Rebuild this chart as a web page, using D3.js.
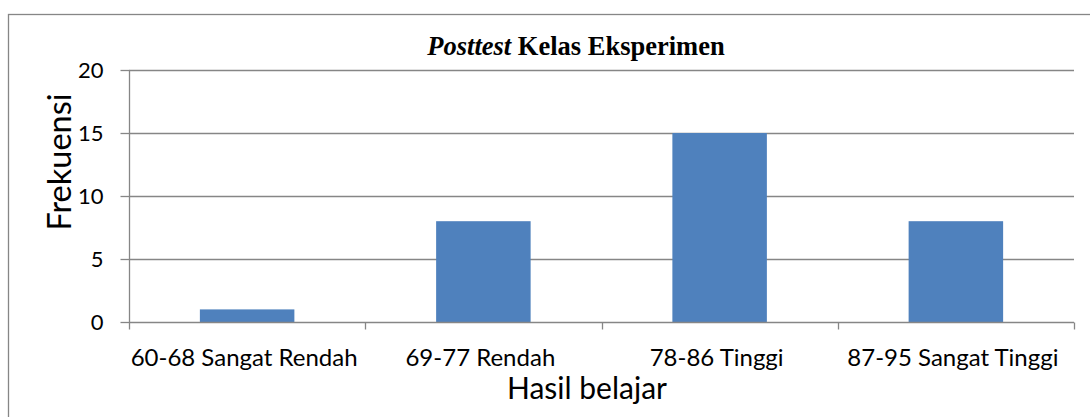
<!DOCTYPE html>
<html><head><meta charset="utf-8">
<script src="https://cdn.jsdelivr.net/npm/d3@7"></script>
<style>body{margin:0;background:#fff}svg{display:block}</style>
</head><body>
<script>
const categories = ["60-68 Sangat Rendah","69-77 Rendah","78-86 Tinggi","87-95 Sangat Tinggi"];
const values = [1, 8, 15, 8];
const yTicks = [0, 5, 10, 15, 20];

const W = 1090, H = 417;
const m = {left: 129, right: 1074, top: 70, bottom: 322};
const svg = d3.select("body").append("svg").attr("width", W).attr("height", H);

svg.append("rect").attr("x", 8.5).attr("y", 14.5).attr("width", 1100).attr("height", 500)
  .attr("fill", "none").attr("stroke", "#868686").attr("stroke-width", 1.3);

const x = d3.scaleBand().domain(categories).range([m.left, m.right]).paddingInner(0.6).paddingOuter(0.3);
const xb = d3.scaleBand().domain(categories).range([m.left, m.right]);
const y = d3.scaleLinear().domain([0, 20]).range([m.bottom, m.top]);

const font = "Lato, 'Open Sans', sans-serif";
// gridlines
svg.append("g").selectAll("line").data(yTicks.filter(d => d > 0)).join("line")
  .attr("x1", m.left).attr("x2", m.right)
  .attr("y1", d => Math.round(y(d)) + 0.5).attr("y2", d => Math.round(y(d)) + 0.5)
  .attr("stroke", "#868686").attr("stroke-width", 1.3);

// bars
svg.append("g").selectAll("rect").data(values).join("rect")
  .attr("x", (d, i) => x(categories[i])).attr("width", x.bandwidth())
  .attr("y", d => y(d)).attr("height", d => y(0) - y(d))
  .attr("fill", "#4f81bd");

// y axis
const yAxis = d3.axisLeft(y).tickValues(yTicks).tickSize(9).tickPadding(17);
const gy = svg.append("g").attr("transform", `translate(${m.left + 0.5},0)`).call(yAxis);
gy.select(".domain").attr("stroke", "#868686").attr("stroke-width", 1.3).attr("d", `M0,${m.top}V${m.bottom}`);
gy.selectAll(".tick line").attr("stroke", "#868686").attr("stroke-width", 1.3);
gy.selectAll(".tick text").attr("font-family", font).attr("font-size", 22).attr("fill", "#000");

// x axis
const gx = svg.append("g").attr("transform", `translate(0,${m.bottom + 0.5})`);
gx.append("line").attr("x1", m.left).attr("x2", m.right).attr("stroke", "#868686").attr("stroke-width", 1.3);
const bounds = categories.map(c => xb(c)).concat([m.right]);
gx.selectAll("line.t").data(bounds).join("line").attr("class", "t")
  .attr("x1", d => Math.round(d) + 0.5).attr("x2", d => Math.round(d) + 0.5).attr("y1", 0).attr("y2", 7)
  .attr("stroke", "#868686").attr("stroke-width", 1.3);
gx.selectAll("text").data(categories).join("text")
  .attr("x", d => xb(d) + xb.bandwidth() / 2 - 3).attr("y", 43)
  .attr("text-anchor", "middle").attr("font-family", font).attr("font-size", 24).attr("fill", "#000")
  .text(d => d);

// axis titles
svg.append("text").attr("x", 587).attr("y", 399).attr("text-anchor", "middle")
  .attr("font-family", font).attr("font-size", 30).attr("fill", "#000").text("Hasil belajar");
svg.append("text").attr("transform", "translate(71,162) rotate(-90)").attr("text-anchor", "middle")
  .attr("font-family", font).attr("font-size", 32.5).attr("fill", "#000").text("Frekuensi");

// title
const t = svg.append("text").attr("x", 576).attr("y", 55).attr("text-anchor", "middle")
  .attr("font-family", "'Liberation Serif', 'Times New Roman', serif").attr("font-size", 26.5)
  .attr("font-weight", "bold").attr("fill", "#000");
t.append("tspan").attr("font-style", "italic").text("Posttest");
t.append("tspan").text(" Kelas Eksperimen");
</script>
</body></html>
